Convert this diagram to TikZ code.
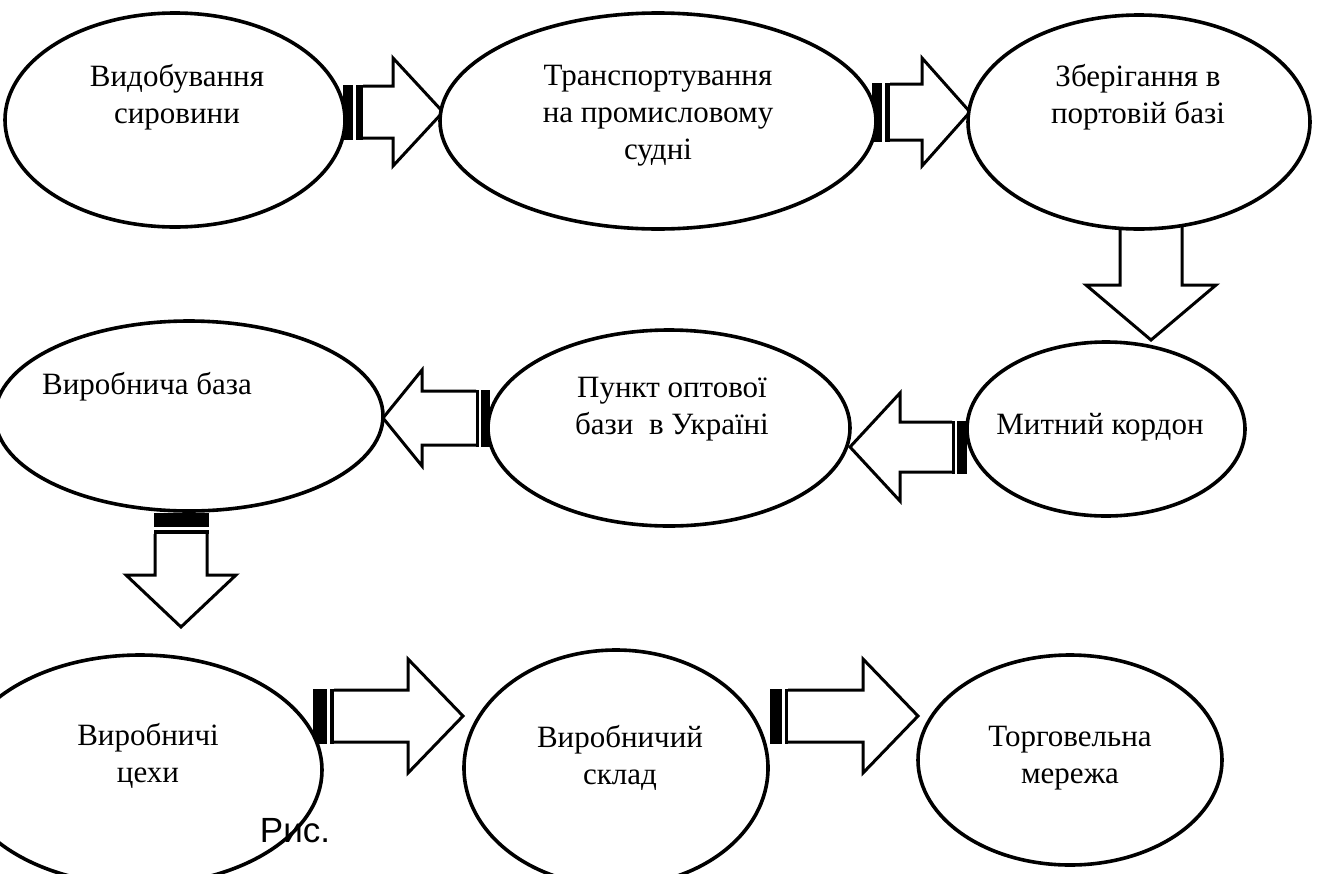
\documentclass[tikz,border=0pt]{standalone}
\usepackage{fontspec}
\setmainfont{Liberation Serif}
\newfontfamily\capfont{Liberation Sans}
\usetikzlibrary{shapes.geometric}
\tikzset{
  blob/.style={ellipse, draw=black, line width=3.6pt, fill=white, inner sep=0pt},
  lbl/.style={align=center, inner sep=0pt, font=\fontsize{31}{37}\selectfont},
  arrowline/.style={draw=black, line width=3pt, fill=white, line join=miter},
}
% #1 x, #2 y, #3 angle, #4 thick bar end, #5 body start, #6 head base, #7 tip, #8 body half, #9 head half
\newcommand\stripedarrow[9]{%
  \begin{scope}[shift={(#1,#2)},rotate=#3]
    \draw[arrowline] (#5,#8) -- (#6,#8) -- (#6,#9) -- (#7,0) -- (#6,-#9) -- (#6,-#8) -- (#5,-#8);
    \fill[black] (0,-#8-1.5) rectangle (#4,#8+1.5);
    \fill[black] (#4+2.5,-#8-1.5) rectangle (#5,#8+1.5);
  \end{scope}}
\begin{document}
\begin{tikzpicture}[x=1pt,y=-1pt]
\useasboundingbox (0,0) rectangle (1340,873);
\clip (0,0) rectangle (1340,873);
% arrows (drawn first; ellipses cover their tails)
\stripedarrow{343}{112}{0}{10}{20}{50}{100}{26}{54}
\stripedarrow{872}{112}{0}{10}{18}{50}{98}{28}{54}
\stripedarrow{1151}{200}{-90}{10}{18}{85}{140}{31}{65}
\stripedarrow{967}{447}{180}{10}{15}{67}{117}{25}{54}
\stripedarrow{490}{418}{180}{9}{14}{68}{107}{27}{48}
\stripedarrow{181}{513}{-90}{14}{21}{62}{114}{26}{55}
\stripedarrow{313}{716}{0}{14}{21}{95}{150}{26}{57}
\stripedarrow{770}{716}{0}{12}{18}{93}{148}{26}{57}
% ellipses
\node[blob, minimum width=340pt, minimum height=214pt] (e1) at (175,120) {};
\node[blob, minimum width=436pt, minimum height=216pt] (e2) at (658,121) {};
\node[blob, minimum width=342pt, minimum height=214pt] (e3) at (1139,122) {};
\node[blob, minimum width=278pt, minimum height=174pt] (e4) at (1106,429) {};
\node[blob, minimum width=362pt, minimum height=196pt] (e5) at (669,428) {};
\node[blob, minimum width=388pt, minimum height=190pt] (e6) at (189,416) {};
\node[blob, minimum width=364pt, minimum height=230pt] (e7) at (140,770) {};
\node[blob, minimum width=304pt, minimum height=236pt] (e8) at (616,768) {};
\node[blob, minimum width=304pt, minimum height=210pt] (e9) at (1070,760) {};
% labels
\node[lbl] (t1) at (177,97) {Видобування\\сировини};
\node[lbl] (t2) at (658,116) {Транспортування\\на промисловому\\судні};
\node[lbl] (t3) at (1138,97) {Зберігання в\\портовій базі};
\node[lbl] (t4) at (1100,427) {Митний кордон};
\node[lbl] (t5) at (672,409) {Пункт оптової\\бази\ \ в Україні};
\node[lbl] (t6) at (147,387) {Виробнича база};
\node[lbl] (t7) at (148,756) {Виробничі\\цехи};
\node[lbl] (t8) at (620,758) {Виробничий\\склад};
\node[lbl] (t9) at (1070,758) {Торговельна\\мережа};
\node[inner sep=0pt, font=\capfont\fontsize{35}{40}\selectfont] (cap) at (295,831) {Рис.};
\end{tikzpicture}
\end{document}
